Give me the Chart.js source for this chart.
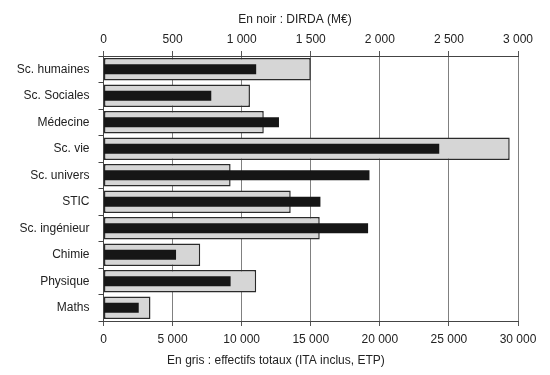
<!DOCTYPE html>
<html><head><meta charset="utf-8">
<script src="https://cdn.jsdelivr.net/npm/chart.js@4"></script>
<style>html,body{margin:0;padding:0;background:#fff}#wrap{width:550px;height:375px}</style>
</head><body><div id="wrap"><canvas id="c" width="550" height="375"></canvas></div>
<script>
const categories = ["Sc. humaines","Sc. Sociales","Médecine","Sc. vie","Sc. univers","STIC","Sc. ingénieur","Chimie","Physique","Maths"];
const effectifs = [15000,10600,11600,29400,9200,13550,15650,7000,11050,3400];
const dirda = [1105,780,1270,2430,1925,1570,1915,525,920,255];
const topTitle = "En noir : DIRDA (M€)";
const bottomTitle = "En gris : effectifs totaux (ITA inclus, ETP)";

const fmt = v => String(v).replace(/\B(?=(\d{3})+(?!\d))/g, ' ');
const family = "'Liberation Sans', Arial, sans-serif";
const font = {family: family, size: 12};
const txt = '#222';

const axisTitles = {
  id: 'axisTitles',
  afterDraw(chart) {
    const {ctx, chartArea: a} = chart;
    const w = a.right - a.left;
    ctx.save();
    ctx.font = '12px ' + family;
    ctx.fillStyle = txt;
    ctx.textAlign = 'center';
    ctx.textBaseline = 'middle';
    ctx.fillText(topTitle, a.left + 0.462 * w, a.top - 36);
    ctx.fillText(bottomTitle, a.left + 0.416 * w, a.bottom + 40);
    ctx.restore();
  }
};

new Chart(document.getElementById('c'), {
  type: 'bar',
  data: {
    labels: categories,
    datasets: [
      {label: 'DIRDA', data: dirda, xAxisID: 'x2', backgroundColor: '#161616', borderWidth: 0,
       barPercentage: 0.38, categoryPercentage: 1, order: 0},
      {label: 'Effectifs', data: effectifs, xAxisID: 'x', backgroundColor: '#d6d6d6', borderColor: '#2a2a2a',
       borderWidth: 1.5, borderSkipped: false, barPercentage: 0.84, categoryPercentage: 1, order: 1}
    ]
  },
  options: {
    indexAxis: 'y',
    responsive: false,
    animation: false,
    maintainAspectRatio: false,
    layout: {padding: {left: 7.8, right: 32, top: 28.6, bottom: 22.6}},
    plugins: {legend: {display: false}, tooltip: {enabled: false}},
    datasets: {bar: {grouped: false}},
    scales: {
      y: {
        type: 'category', offset: true,
        grid: {offset: true, drawOnChartArea: false, drawTicks: true, tickLength: 5, color: '#444'},
        border: {display: true, color: '#444', width: 1},
        ticks: {color: txt, font: font, padding: 9}
      },
      x: {
        position: 'bottom', min: 0, max: 30000,
        ticks: {stepSize: 5000, color: txt, font: font, padding: 6, callback: v => fmt(v), maxRotation: 0},
        grid: {color: '#808080', lineWidth: 1, tickLength: 5, tickColor: '#555'},
        border: {display: true, color: '#444'}
      },
      x2: {
        position: 'top', min: 0, max: 3000,
        ticks: {stepSize: 500, color: txt, font: font, padding: 4, callback: v => fmt(v), maxRotation: 0},
        grid: {drawOnChartArea: false, tickLength: 5, color: '#555'},
        border: {display: true, color: '#444'}
      }
    }
  },
  plugins: [axisTitles]
});
</script></body></html>
